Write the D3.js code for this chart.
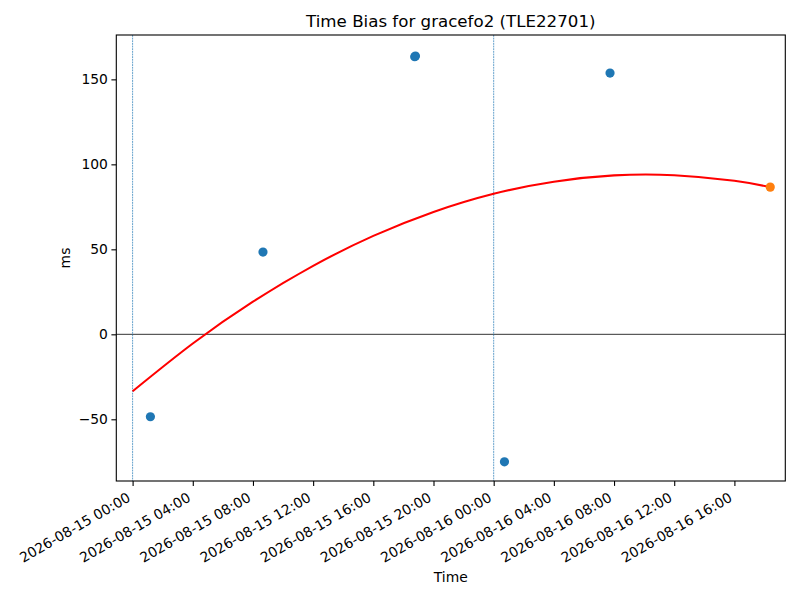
<!DOCTYPE html>
<html>
<head>
<meta charset="utf-8">
<script src="https://cdn.jsdelivr.net/npm/d3@7"></script>
<style>
  body { margin: 0; background: #fff; }
  text { font-family: "DejaVu Sans", sans-serif; fill: #000; }
</style>
</head>
<body>
<div id="chart"></div>
<script>
// measured observations (UTC)
const obsTimes = ["2026-08-15T01:11", "2026-08-15T08:40", "2026-08-15T18:45", "2026-08-15T18:48",
                  "2026-08-16T00:43", "2026-08-16T07:44"];
const obsValues = [-48.5, 48.4, 163.3, 163.7, -75, 153.7];

// latest point (orange)
const lastTime = "2026-08-16T18:23";
const lastValue = 86.6;

// fitted curve
const fitTimes = ["2026-08-15T00:00", "2026-08-15T04:00", "2026-08-15T08:00", "2026-08-15T12:00",
                  "2026-08-15T16:00", "2026-08-15T20:00", "2026-08-16T00:00", "2026-08-16T04:00",
                  "2026-08-16T08:00", "2026-08-16T12:00", "2026-08-16T16:00", "2026-08-16T18:23"];
const fitValues = [-33.5, -5.4, 19.2, 40.3, 57.9, 72.0, 82.7, 89.8, 93.5, 93.6, 90.3, 86.6];

// day boundaries
const dayLines = ["2026-08-15T00:00", "2026-08-16T00:00"];

const yTicks = [-50, 0, 50, 100, 150];
const xDomain = ["2026-08-14T22:55", "2026-08-16T19:23"];
const yDomain = [-86.3, 176.1];

const width = 800, height = 600;
const margin = {left: 116.3, right: 800 - 785.3, top: 35, bottom: 600 - 481};

const parse = s => new Date(s + ":00Z");

const svg = d3.select("#chart").append("svg")
    .attr("width", width)
    .attr("height", height);

const x = d3.scaleUtc()
    .domain(xDomain.map(parse))
    .range([margin.left, width - margin.right]);

const y = d3.scaleLinear()
    .domain(yDomain)
    .range([height - margin.bottom, margin.top]);

svg.append("clipPath").attr("id", "clip")
  .append("rect")
    .attr("x", margin.left).attr("y", margin.top)
    .attr("width", width - margin.left - margin.right)
    .attr("height", height - margin.top - margin.bottom);

const plot = svg.append("g").attr("clip-path", "url(#clip)");

// zero line
plot.append("line")
    .attr("x1", margin.left).attr("x2", width - margin.right)
    .attr("y1", y(0)).attr("y2", y(0))
    .attr("stroke", "#000").attr("stroke-width", 0.8);

// day lines
plot.selectAll(".dayline").data(dayLines).join("line")
    .attr("class", "dayline")
    .attr("x1", d => x(parse(d))).attr("x2", d => x(parse(d)))
    .attr("y1", margin.top).attr("y2", height - margin.bottom)
    .attr("stroke", "#1f77b4").attr("stroke-width", 0.7)
    .attr("stroke-dasharray", "1.85,0.8");

// fit curve
const fitData = fitTimes.map((t, i) => ({t: parse(t), v: fitValues[i]}));
plot.append("path")
    .datum(fitData)
    .attr("fill", "none")
    .attr("stroke", "red")
    .attr("stroke-width", 2.08)
    .attr("d", d3.line().x(d => x(d.t)).y(d => y(d.v)).curve(d3.curveNatural));

// observations
const obs = obsTimes.map((t, i) => ({t: parse(t), v: obsValues[i]}));
plot.selectAll(".obs").data(obs).join("circle")
    .attr("class", "obs")
    .attr("cx", d => x(d.t)).attr("cy", d => y(d.v))
    .attr("r", 4.6)
    .attr("fill", "#1f77b4");

plot.append("circle")
    .attr("cx", x(parse(lastTime))).attr("cy", y(lastValue))
    .attr("r", 4.6)
    .attr("fill", "#ff7f0e");

// axes
const xTicks = d3.utcHour.every(4).range(parse("2026-08-15T00:00"), parse("2026-08-16T19:00"));
const xAxis = svg.append("g")
    .attr("transform", `translate(0,${height - margin.bottom})`)
    .call(d3.axisBottom(x).tickValues(xTicks).tickFormat(d3.utcFormat("%Y-%m-%d %H:%M"))
        .tickSizeOuter(0).tickSize(4.9).tickPadding(0));
xAxis.select(".domain").remove();
xAxis.selectAll(".tick line").attr("stroke-width", 1.1);
// matplotlib style: rotated bbox right edge at the tick, top just below the tick
xAxis.selectAll(".tick text")
    .attr("y", -3.3)
    .attr("dy", null)
    .attr("text-anchor", "end")
    .attr("transform", "translate(0,22.3) rotate(-30)")
    .style("font-size", "13.89px");

const yAxis = svg.append("g")
    .attr("transform", `translate(${margin.left},0)`)
    .call(d3.axisLeft(y).tickValues(yTicks).tickSizeOuter(0).tickSize(4.9).tickPadding(3.5));
yAxis.select(".domain").remove();
yAxis.selectAll(".tick line").attr("stroke-width", 1.1);
yAxis.selectAll(".tick text").style("font-size", "13.89px");

// frame
svg.append("rect")
    .attr("x", margin.left).attr("y", margin.top)
    .attr("width", width - margin.left - margin.right)
    .attr("height", height - margin.top - margin.bottom)
    .attr("fill", "none").attr("stroke", "#000").attr("stroke-width", 1.1);

// labels
svg.append("text")
    .attr("x", (margin.left + width - margin.right) / 2).attr("y", 27)
    .attr("text-anchor", "middle")
    .style("font-size", "16.67px")
    .text("Time Bias for gracefo2 (TLE22701)");

svg.append("text")
    .attr("x", (margin.left + width - margin.right) / 2).attr("y", 582)
    .attr("text-anchor", "middle")
    .style("font-size", "13.89px")
    .text("Time");

svg.append("text")
    .attr("transform", `translate(70,${(margin.top + height - margin.bottom) / 2}) rotate(-90)`)
    .attr("text-anchor", "middle")
    .style("font-size", "13.89px")
    .text("ms");
</script>
</body>
</html>
